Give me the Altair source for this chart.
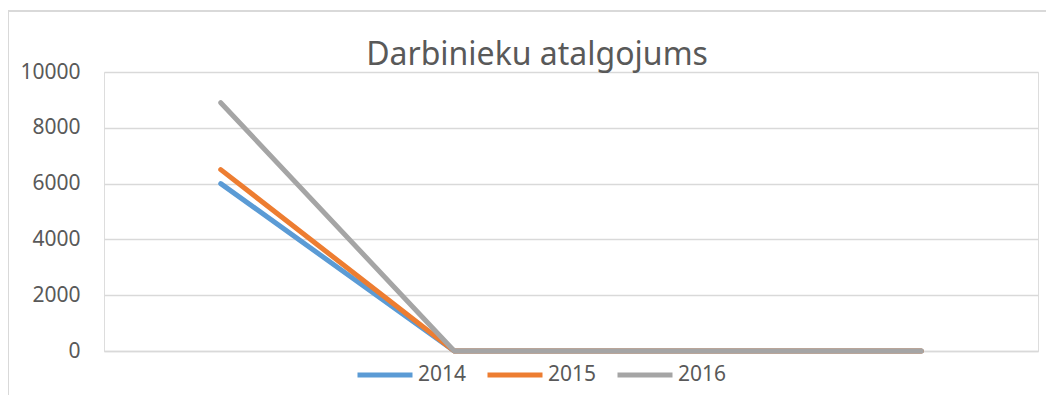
import altair as alt
import pandas as pd

categories = ["1", "2", "3", "4"]
series_names = ["2014", "2015", "2016"]
values_2014 = [6000, 0, 0, 0]
values_2015 = [6500, 0, 0, 0]
values_2016 = [8900, 0, 0, 0]
y_ticks = [0, 2000, 4000, 6000, 8000, 10000]
colors = ["#5B9BD5", "#ED7D31", "#A5A5A5"]
title_text = "Darbinieku atalgojums"

rows = []
for name, vals in zip(series_names, [values_2014, values_2015, values_2016]):
    for c, v in zip(categories, vals):
        rows.append({"cat": c, "year": name, "value": v})
df = pd.DataFrame(rows)

FONT = "Noto Sans"
TXT = "#595959"
GRID = "#D9D9D9"

lines = alt.Chart(df).mark_line(strokeWidth=5, strokeCap="round", strokeJoin="round").encode(
    x=alt.X("cat:N", sort=categories,
            scale=alt.Scale(type="point", padding=0.5),
            axis=alt.Axis(labels=False, ticks=False, title=None, domain=True,
                          domainColor=GRID, domainWidth=1.5, grid=False)),
    y=alt.Y("value:Q", scale=alt.Scale(domain=[0, 10000], nice=False),
            axis=alt.Axis(values=y_ticks, format="d", title=None, domain=False, ticks=False,
                          grid=True, gridColor=GRID, gridWidth=1.5,
                          labelFont=FONT, labelFontSize=21, labelColor=TXT,
                          labelPadding=24)),
    color=alt.Color("year:N", sort=series_names, title=None,
                    scale=alt.Scale(domain=series_names, range=colors),
                    legend=alt.Legend(orient="none", legendX=251, legendY=273,
                                      direction="horizontal",
                                      symbolType="stroke", symbolStrokeWidth=5,
                                      symbolSize=3025,
                                      labelFont=FONT, labelFontSize=21, labelColor=TXT,
                                      labelOffset=3, columnPadding=10)),
    order=alt.Order("cat:N"),
)

border_top = alt.Chart(df).mark_rule(color=GRID, strokeWidth=2).encode(
    x=alt.value(-96), x2=alt.value(950), y=alt.value(-61)
)
border_left = alt.Chart(df).mark_rule(color=GRID, strokeWidth=2).encode(
    x=alt.value(-96), y=alt.value(-61), y2=alt.value(330)
)

chart = alt.layer(border_top, border_left, lines).properties(
    width=934,
    height=279,
    title=alt.Title(title_text, font=FONT, fontSize=32, fontWeight="normal",
                    color=TXT, anchor="middle", frame="group", dx=-34, dy=93, offset=6,
                    baseline="alphabetic"),
    autosize=alt.AutoSizeParams(type="none"),
    padding={"left": 96, "top": 64, "right": 8, "bottom": 44},
).configure_view(stroke=None).configure(background="white")

chart.save("out.html", embed_options={"renderer": "svg", "actions": False})
